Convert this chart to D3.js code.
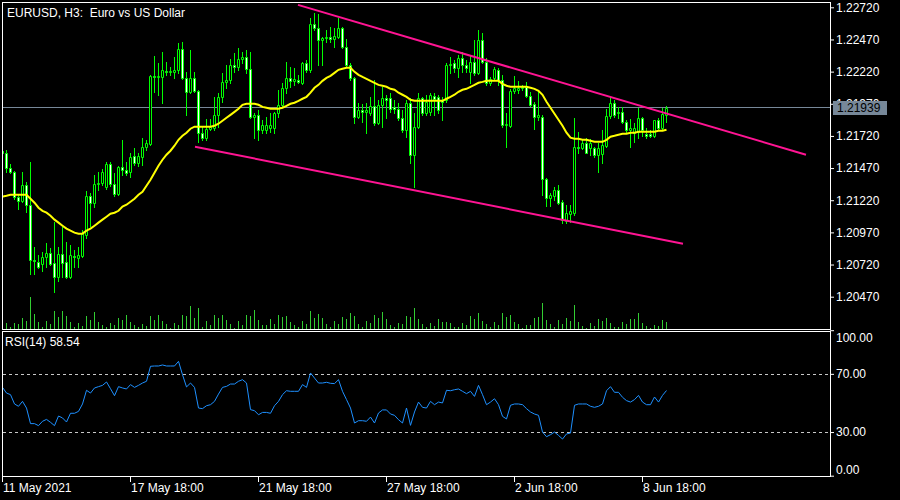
<!DOCTYPE html>
<html><head><meta charset="utf-8">
<script src="https://cdn.jsdelivr.net/npm/d3@7/dist/d3.min.js"></script>
<style>
html,body{margin:0;padding:0;background:#000;}
svg{display:block;}
text{font-family:"Liberation Sans",Arial,sans-serif;font-size:12px;fill:#fff;}
</style></head><body>
<svg id="c" width="900" height="500"></svg>
<script>
const symbolTitle = "EURUSD, H3:  Euro vs US Dollar";
const rsiTitle = "RSI(14) 58.54";
const currentPrice = 1.21939;

const opens = [
1.21605,1.21590,1.21473,1.21441,1.21248,1.21216,1.21340,1.21185,1.20758,1.20742,
1.20727,1.20781,1.20813,1.20735,1.20626,1.20805,1.20742,1.20626,1.20789,1.20773,
1.20789,1.20952,1.21255,1.21201,1.21348,1.21356,1.21325,1.21504,1.21348,1.21271,
1.21480,1.21457,1.21441,1.21566,1.21512,1.21558,1.21636,1.21659,1.22187,1.22179,
1.22179,1.22226,1.22218,1.22218,1.22234,1.22397,1.22171,1.22063,1.22171,1.22071,
1.21745,1.21706,1.21776,1.21784,1.21884,1.22024,1.22140,1.22156,1.22273,1.22257,
1.22320,1.22335,1.22242,1.21869,1.21884,1.21768,1.21768,1.21784,1.21784,1.21900,
1.21962,1.22094,1.22171,1.22148,1.22156,1.22133,1.22288,1.22234,1.22592,1.22561,
1.22467,1.22483,1.22490,1.22475,1.22490,1.22561,1.22413,1.22273,1.22171,1.21869,
1.21923,1.21907,1.21900,1.21954,1.21823,1.21962,1.22017,1.22017,1.21946,1.21931,
1.21861,1.21768,1.21978,1.21574,1.21792,1.22017,1.21900,1.21907,1.22032,1.22024,
1.22001,1.22001,1.22273,1.22288,1.22250,1.22327,1.22273,1.22218,1.22296,1.22210,
1.22467,1.22296,1.22133,1.22171,1.22234,1.22156,1.21807,1.21799,1.22071,1.22079,
1.22094,1.22102,1.22032,1.21970,1.21869,1.21869,1.21387,1.21240,1.21255,1.21302,
1.21208,1.21061,1.21115,1.21123,1.21636,1.21628,1.21667,1.21628,1.21628,1.21574,
1.21582,1.21644,1.21877,1.21978,1.21900,1.21907,1.21830,1.21768,1.21745,1.21752,
1.21861,1.21737,1.21737,1.21721,1.21846,1.21784,1.21884];
const highs = [
1.21628,1.21613,1.21504,1.21449,1.21263,1.21441,1.21363,1.21519,1.20859,1.20797,
1.20820,1.20890,1.20851,1.21053,1.20859,1.21014,1.20897,1.20875,1.20836,1.20859,
1.20991,1.21294,1.21279,1.21418,1.21441,1.21465,1.21519,1.21519,1.21434,1.21488,
1.21690,1.21519,1.21590,1.21628,1.21590,1.21706,1.21690,1.22195,1.22343,1.22288,
1.22374,1.22296,1.22257,1.22335,1.22444,1.22452,1.22218,1.22390,1.22218,1.22079,
1.21792,1.21854,1.21854,1.22024,1.22056,1.22210,1.22273,1.22320,1.22367,1.22405,
1.22374,1.22390,1.22374,1.21900,1.21923,1.21846,1.21869,1.21900,1.21907,1.22079,
1.22133,1.22296,1.22257,1.22250,1.22195,1.22296,1.22312,1.22638,1.22677,1.22669,
1.22490,1.22545,1.22568,1.22561,1.22638,1.22568,1.22475,1.22288,1.22179,1.21978,
1.21970,1.21978,1.22024,1.22156,1.22001,1.22102,1.22040,1.22056,1.22001,1.21978,
1.21923,1.22001,1.22017,1.21900,1.22056,1.22024,1.22040,1.22056,1.22056,1.22040,
1.22024,1.22288,1.22335,1.22312,1.22351,1.22374,1.22312,1.22351,1.22467,1.22545,
1.22522,1.22327,1.22179,1.22257,1.22250,1.22195,1.21900,1.22086,1.22187,1.22148,
1.22117,1.22140,1.22063,1.21985,1.22071,1.21884,1.21395,1.21279,1.21325,1.21340,
1.21224,1.21185,1.21185,1.21861,1.21752,1.21698,1.21706,1.21698,1.21636,1.21667,
1.21768,1.21931,1.22024,1.22001,1.21946,1.21946,1.21846,1.21854,1.21823,1.21939,
1.21869,1.21784,1.21768,1.21846,1.21861,1.21939,1.21954];
const lows = [
1.21566,1.21441,1.21434,1.21232,1.21154,1.21208,1.21130,1.20649,1.20649,1.20696,
1.20672,1.20704,1.20719,1.20509,1.20594,1.20626,1.20618,1.20618,1.20704,1.20704,
1.20781,1.20929,1.21022,1.21170,1.21302,1.21340,1.21309,1.21333,1.21255,1.21263,
1.21418,1.21418,1.21403,1.21496,1.21488,1.21496,1.21613,1.21651,1.22063,1.22040,
1.21978,1.22195,1.22195,1.22171,1.22210,1.22164,1.21884,1.22056,1.22063,1.21674,
1.21690,1.21690,1.21768,1.21768,1.21792,1.21985,1.22094,1.22133,1.22218,1.22234,
1.22288,1.22210,1.21861,1.21706,1.21690,1.21745,1.21745,1.21752,1.21745,1.21869,
1.21946,1.22056,1.22102,1.22117,1.22133,1.22125,1.22218,1.22218,1.22545,1.22273,
1.22273,1.22452,1.22452,1.22413,1.22483,1.22405,1.22257,1.22156,1.21823,1.21861,
1.21830,1.21745,1.21884,1.21807,1.21815,1.21792,1.21861,1.21908,1.21900,1.21846,
1.21752,1.21714,1.21512,1.21325,1.21784,1.21884,1.21884,1.21884,1.21884,1.21900,
1.21846,1.21985,1.22210,1.22218,1.22179,1.22218,1.22218,1.22133,1.22195,1.22203,
1.22288,1.22117,1.22117,1.22156,1.22117,1.21792,1.21636,1.21792,1.22056,1.22056,
1.22079,1.22024,1.21954,1.21776,1.21846,1.21263,1.21177,1.21177,1.21224,1.21193,
1.21046,1.21046,1.21053,1.21107,1.21590,1.21620,1.21590,1.21574,1.21558,1.21441,
1.21512,1.21636,1.21861,1.21869,1.21861,1.21823,1.21752,1.21636,1.21674,1.21706,
1.21721,1.21706,1.21714,1.21714,1.21768,1.21768,1.21830];
const closes = [
1.21590,1.21473,1.21441,1.21248,1.21216,1.21340,1.21185,1.20758,1.20750,1.20704,
1.20781,1.20813,1.20727,1.20626,1.20805,1.20735,1.20626,1.20797,1.20781,1.20797,
1.20968,1.21255,1.21201,1.21348,1.21356,1.21441,1.21504,1.21348,1.21271,1.21480,
1.21457,1.21434,1.21558,1.21512,1.21566,1.21636,1.21667,1.22187,1.22179,1.22187,
1.22234,1.22218,1.22226,1.22234,1.22397,1.22171,1.22063,1.22171,1.22071,1.21745,
1.21706,1.21776,1.21792,1.21884,1.22024,1.22140,1.22156,1.22273,1.22257,1.22320,
1.22335,1.22242,1.21869,1.21884,1.21768,1.21807,1.21807,1.21807,1.21900,1.21962,
1.22094,1.22171,1.22148,1.22164,1.22140,1.22288,1.22234,1.22592,1.22561,1.22467,
1.22483,1.22490,1.22475,1.22498,1.22561,1.22413,1.22273,1.22171,1.21869,1.21923,
1.21907,1.21923,1.21954,1.21823,1.21962,1.22017,1.22001,1.21931,1.21931,1.21861,
1.21768,1.21978,1.21574,1.21792,1.22017,1.21900,1.21985,1.22040,1.22009,1.21923,
1.21985,1.22273,1.22281,1.22250,1.22327,1.22273,1.22250,1.22296,1.22210,1.22467,
1.22296,1.22133,1.22164,1.22242,1.22156,1.21807,1.21815,1.22071,1.22094,1.22094,
1.22102,1.22032,1.21962,1.21869,1.21884,1.21387,1.21240,1.21263,1.21302,1.21201,
1.21069,1.21123,1.21138,1.21636,1.21628,1.21667,1.21590,1.21667,1.21574,1.21628,
1.21652,1.21877,1.21978,1.21884,1.21907,1.21830,1.21768,1.21784,1.21784,1.21861,
1.21768,1.21721,1.21721,1.21846,1.21784,1.21892,1.21939];
const volumes = [
600,570,233,567,500,1067,800,3167,1500,700,
233,800,500,1800,1233,1800,1300,700,233,633,
300,1300,900,1700,700,400,233,633,400,1100,
900,1400,700,400,233,500,300,1300,900,1400,
800,500,133,600,400,1400,1300,2300,1100,2100,
233,800,400,1400,1100,1400,900,500,133,800,
400,1400,1300,1900,900,400,400,1000,500,1400,
1200,1300,700,400,200,800,500,1800,1100,1500,
1100,500,200,800,500,1167,967,1567,1300,500,
233,800,600,1400,1100,1700,1000,400,233,600,
500,1300,1200,2100,1000,500,233,600,300,1000,
700,700,600,233,233,600,400,1300,1000,1600,
800,500,233,700,400,1600,1200,1400,700,500,
100,400,400,1100,1200,2600,900,500,233,900,
500,1100,800,2400,700,300,100,600,300,1000,
800,1100,600,233,233,700,500,1000,1000,1600,
600,300,100,400,300,900,700];
const maValues = [
1.21248,1.21255,1.21263,1.21263,1.21263,1.21263,1.21263,1.21232,1.21201,1.21162,
1.21138,1.21123,1.21100,1.21069,1.21046,1.21022,1.20999,1.20983,1.20968,1.20960,
1.20960,1.20983,1.20999,1.21022,1.21046,1.21069,1.21092,1.21115,1.21123,1.21138,
1.21170,1.21185,1.21208,1.21232,1.21263,1.21286,1.21333,1.21379,1.21434,1.21488,
1.21535,1.21574,1.21605,1.21644,1.21690,1.21721,1.21745,1.21776,1.21792,1.21792,
1.21792,1.21792,1.21792,1.21799,1.21815,1.21838,1.21861,1.21884,1.21907,1.21931,
1.21962,1.21970,1.21970,1.21970,1.21962,1.21946,1.21939,1.21931,1.21931,1.21931,
1.21939,1.21954,1.21970,1.21978,1.21993,1.22009,1.22024,1.22056,1.22094,1.22117,
1.22148,1.22171,1.22187,1.22210,1.22234,1.22242,1.22250,1.22250,1.22218,1.22195,
1.22179,1.22164,1.22148,1.22133,1.22117,1.22110,1.22102,1.22086,1.22079,1.22056,
1.22040,1.22024,1.22001,1.21993,1.21993,1.21993,1.21993,1.21993,1.21993,1.21993,
1.21993,1.22009,1.22024,1.22040,1.22063,1.22079,1.22086,1.22102,1.22117,1.22133,
1.22140,1.22148,1.22148,1.22148,1.22148,1.22125,1.22110,1.22102,1.22102,1.22102,
1.22102,1.22102,1.22094,1.22086,1.22071,1.22040,1.21985,1.21939,1.21892,1.21846,
1.21799,1.21745,1.21706,1.21698,1.21698,1.21690,1.21690,1.21682,1.21674,1.21674,
1.21674,1.21690,1.21714,1.21721,1.21729,1.21737,1.21737,1.21745,1.21745,1.21752,
1.21752,1.21752,1.21752,1.21752,1.21760,1.21760,1.21768];
const rsiValues = [
60.7,56.8,55.7,49.3,47.7,51.1,46.5,35.8,35.8,34.4,
37.4,38.7,36.7,34.4,41.0,39.7,36.9,42.9,42.9,44.2,
49.3,58.7,56.8,60.3,61.2,62.1,64.4,59.8,55.0,61.2,
60.3,59.6,62.6,60.7,62.1,63.7,64.9,75.2,75.4,75.4,
76.1,75.4,75.4,75.4,78.6,69.4,61.0,63.7,60.7,46.5,
46.1,48.1,48.8,51.1,56.1,60.7,61.4,63.0,63.0,64.9,
66.0,63.7,45.4,44.7,41.9,43.5,43.5,42.9,48.1,51.1,
55.7,58.4,58.0,58.0,58.0,62.6,60.7,70.6,67.1,63.7,
63.7,64.2,63.5,63.3,66.0,58.0,52.3,46.5,36.2,37.8,
37.8,37.4,40.3,36.2,43.1,45.2,45.2,42.4,41.5,38.5,
36.2,46.5,34.6,43.8,50.6,47.0,46.5,51.1,48.8,50.6,
50.0,58.7,58.4,59.1,59.6,58.0,56.4,58.0,54.5,62.1,
55.7,48.8,50.6,52.9,48.8,40.8,39.0,48.4,49.3,49.3,
48.8,46.1,43.8,42.4,41.5,30.0,26.8,28.2,30.0,27.7,
25.2,28.7,29.3,48.4,49.3,49.3,49.3,47.7,47.0,47.7,
49.3,58.4,61.2,57.3,57.3,53.9,51.6,50.6,52.3,55.2,
50.6,48.8,48.8,54.1,50.6,55.2,58.54];
const priceTicks = [1.20470,1.20720,1.20970,1.21220,1.21470,1.21720,1.21970,1.22220,1.22470,1.22720];
const rsiTicks = [0,30,70,100];
const rsiLevels = [30,70];
const timeTickIndex = [0,32,64,96,128,160];
const timeTickLabels = ["11 May 2021","17 May 18:00","21 May 18:00","27 May 18:00","2 Jun 18:00","8 Jun 18:00"];
const trendUpperIndex = [74,201], trendUpperPrice = [1.22739,1.21574];
const trendLowerIndex = [48.25,170.25], trendLowerPrice = [1.21636,1.20882];

const svg = d3.select("#c");
svg.append("rect").attr("width",900).attr("height",500).attr("fill","#000");

const x = d3.scaleLinear().domain([0,166]).range([2,666]);
const y = d3.scaleLinear().domain([1.20470,1.22720]).range([296.7,7.3]);
const yR = d3.scaleLinear().domain([0,100]).range([475.7,330.2]);
const vH = d3.scaleLinear().domain([0,3200]).range([0,32]);

const defs = svg.append("defs");
defs.append("clipPath").attr("id","mainClip").append("rect").attr("x",3).attr("y",3).attr("width",827).attr("height",326);
defs.append("clipPath").attr("id","rsiClip").append("rect").attr("x",3).attr("y",332).attr("width",827).attr("height",144);

const main = svg.append("g").attr("clip-path","url(#mainClip)");

// volumes
main.selectAll("line.vol").data(volumes).join("line").attr("class","vol")
  .attr("x1",(d,i)=>x(i)+0.5).attr("x2",(d,i)=>x(i)+0.5)
  .attr("y1",329).attr("y2",d=>329-Math.round(vH(d)))
  .attr("stroke","#32cd32").attr("stroke-width",1);

// current price line
const cpY = Math.floor(y(currentPrice))+0.5;
main.append("line").attr("x1",2).attr("x2",830).attr("y1",cpY).attr("y2",cpY)
  .attr("stroke","#778899").attr("stroke-width",1);

// candles
const bars = opens.map((o,i)=>({i,o,h:highs[i],l:lows[i],c:closes[i]}));
main.selectAll("line.wick").data(bars).join("line").attr("class","wick")
  .attr("x1",d=>x(d.i)+0.5).attr("x2",d=>x(d.i)+0.5)
  .attr("y1",d=>Math.round(y(d.h))).attr("y2",d=>Math.round(y(d.l))+1)
  .attr("stroke","#00ff00").attr("stroke-width",1);
main.selectAll("path.body").data(bars).join("path").attr("class","body")
  .attr("d",d=>{
    const t = Math.round(y(Math.max(d.o,d.c)))+0.5;
    const b = Math.round(y(Math.min(d.o,d.c)))+0.5;
    const xl = x(d.i)-0.5;
    return `M${xl},${t}H${xl+2}V${b}H${xl}Z`;
  })
  .attr("fill",d=>d.c>=d.o?"#000":"#fff")
  .attr("stroke","#00ff00").attr("stroke-width",1);

// moving average
main.append("path").datum(maValues)
  .attr("d",d3.line().x((d,i)=>x(i)+0.5).y(d=>y(d)))
  .attr("fill","none").attr("stroke","#ffff00").attr("stroke-width",2);

// trend lines
[[trendUpperIndex,trendUpperPrice],[trendLowerIndex,trendLowerPrice]].forEach(([ix,pr])=>{
  main.append("line").attr("x1",x(ix[0])).attr("y1",y(pr[0])).attr("x2",x(ix[1])).attr("y2",y(pr[1]))
    .attr("stroke","#ff1493").attr("stroke-width",2);
});

// price axis
const pAxis = svg.append("g").attr("transform","translate(830,0)")
  .call(d3.axisRight(y).tickValues(priceTicks).tickSize(4).tickPadding(2).tickFormat(d3.format(".5f")));
pAxis.select(".domain").remove();
pAxis.selectAll("line").attr("stroke","#fff");
pAxis.selectAll("text").attr("fill","#fff").style("font-family","Liberation Sans, Arial, sans-serif").style("font-size","12px");

// current price label
svg.append("rect").attr("x",833).attr("y",101).attr("width",54).attr("height",14).attr("fill","#778899");
svg.append("text").attr("x",837).attr("y",cpY).attr("dy","0.35em").attr("fill","#000").style("fill","#000")
  .text(d3.format(".5f")(currentPrice));

// RSI panel
const rsiG = svg.append("g").attr("clip-path","url(#rsiClip)");
rsiLevels.forEach(v=>{
  const ly = Math.round(yR(v))+0.5;
  rsiG.append("line").attr("x1",3).attr("x2",830).attr("y1",ly).attr("y2",ly)
    .attr("stroke","#c8c8c8").attr("stroke-width",1).attr("stroke-dasharray","3,3");
});
rsiG.append("path").datum(rsiValues)
  .attr("d",d3.line().x((d,i)=>x(i)+0.5).y(d=>yR(d)))
  .attr("fill","none").attr("stroke","#1e90ff").attr("stroke-width",1);

const rAxis = svg.append("g").attr("transform","translate(830,0)")
  .call(d3.axisRight(yR).tickValues(rsiTicks).tickSize(4).tickPadding(2).tickFormat(d3.format(".2f")));
rAxis.select(".domain").remove();
rAxis.selectAll("line").attr("stroke","#fff");
rAxis.selectAll("text").attr("fill","#fff").attr("y",d=>d===100?7:(d===0?-6:0))
  .style("font-family","Liberation Sans, Arial, sans-serif").style("font-size","12px");

// time axis
const tAxis = svg.append("g").attr("transform","translate(0,477)")
  .call(d3.axisBottom(x).tickValues(timeTickIndex).tickSize(5).tickPadding(1.5).tickFormat((d,k)=>timeTickLabels[k]));
tAxis.select(".domain").remove();
tAxis.selectAll("line").attr("stroke","#fff");
tAxis.selectAll("text").attr("fill","#fff").attr("text-anchor","start").attr("x",0.5)
  .style("font-family","Liberation Sans, Arial, sans-serif").style("font-size","12px");

// frames
svg.append("rect").attr("x",2.5).attr("y",2.5).attr("width",828).attr("height",327)
  .attr("fill","none").attr("stroke","#fff").attr("stroke-width",1);
svg.append("rect").attr("x",2.5).attr("y",331.5).attr("width",828).attr("height",145)
  .attr("fill","none").attr("stroke","#fff").attr("stroke-width",1);

// titles
svg.append("text").attr("x",7).attr("y",16.5).style("white-space","pre").text(symbolTitle);
svg.append("text").attr("x",5).attr("y",346).text(rsiTitle);
</script>
</body></html>
